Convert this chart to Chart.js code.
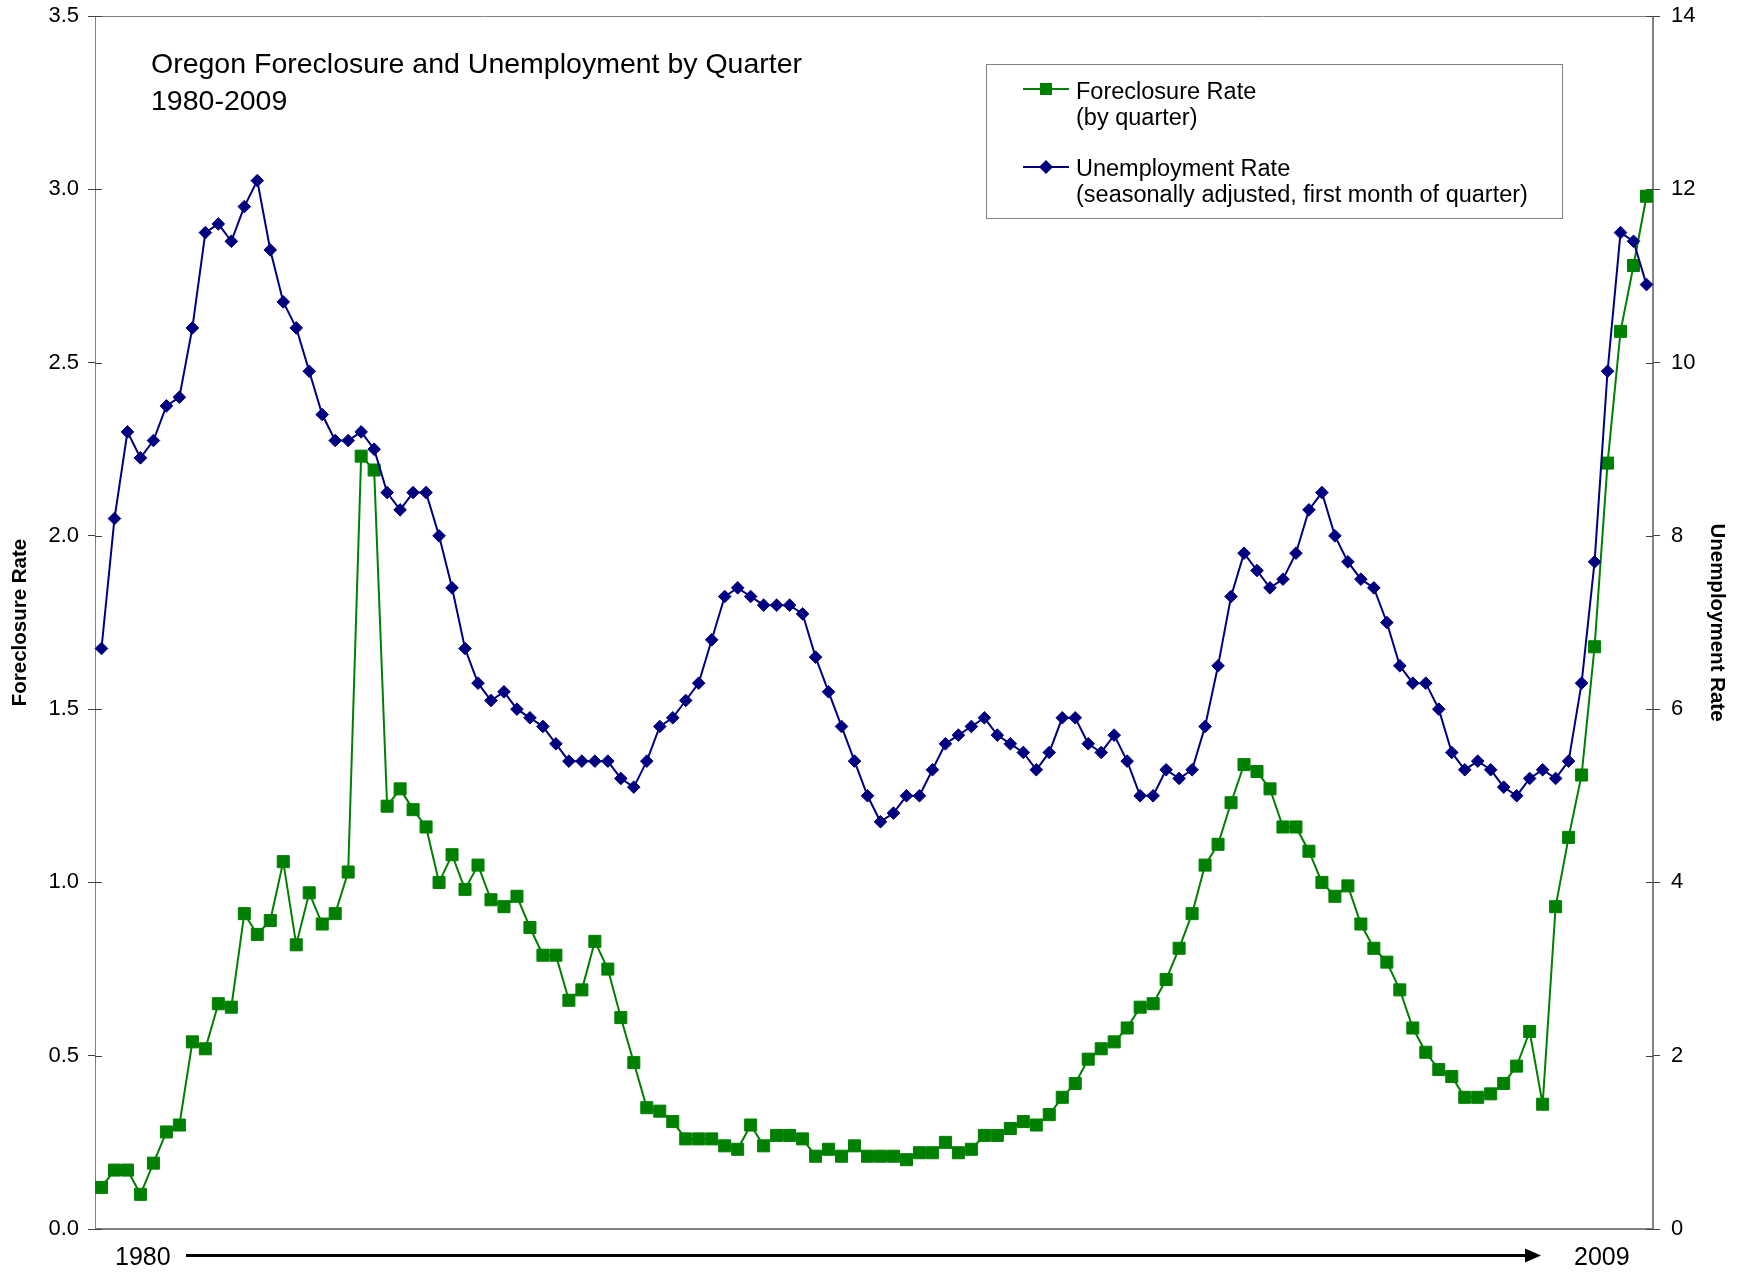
<!DOCTYPE html>
<html>
<head>
<meta charset="utf-8">
<script src="https://cdn.jsdelivr.net/npm/chart.js@4.4.1/dist/chart.umd.min.js"></script>
<style>
html,body{margin:0;padding:0;background:#fff;}
#wrap{width:1743px;height:1273px;position:relative;}
</style>
</head>
<body>
<div id="wrap"><canvas id="c" width="1743" height="1273"></canvas></div>
<script>
// ---------- data ----------
const years = [1980,1981,1982,1983,1984,1985,1986,1987,1988,1989,1990,1991,1992,1993,1994,
               1995,1996,1997,1998,1999,2000,2001,2002,2003,2004,2005,2006,2007,2008,2009];
const quarterNames = ['Q1','Q2','Q3','Q4'];
const categories = [];
for (const yr of years) for (const q of quarterNames) categories.push(yr + ' ' + q);

const foreclosureRate = [
  0.12,0.17,0.17,0.10,0.19,0.28,0.30,0.54,0.52,0.65,0.64,0.91,0.85,0.89,1.06,0.82,0.97,0.88,0.91,1.03,
  2.23,2.19,1.22,1.27,1.21,1.16,1.00,1.08,0.98,1.05,0.95,0.93,0.96,0.87,0.79,0.79,0.66,0.69,0.83,0.75,
  0.61,0.48,0.35,0.34,0.31,0.26,0.26,0.26,0.24,0.23,0.30,0.24,0.27,0.27,0.26,0.21,0.23,0.21,0.24,0.21,
  0.21,0.21,0.20,0.22,0.22,0.25,0.22,0.23,0.27,0.27,0.29,0.31,0.30,0.33,0.38,0.42,0.49,0.52,0.54,0.58,
  0.64,0.65,0.72,0.81,0.91,1.05,1.11,1.23,1.34,1.32,1.27,1.16,1.16,1.09,1.00,0.96,0.99,0.88,0.81,0.77,
  0.69,0.58,0.51,0.46,0.44,0.38,0.38,0.39,0.42,0.47,0.57,0.36,0.93,1.13,1.31,1.68,2.21,2.59,2.78,2.98
];

const unemploymentRate = [
  6.7,8.2,9.2,8.9,9.1,9.5,9.6,10.4,11.5,11.6,11.4,11.8,12.1,11.3,10.7,10.4,9.9,9.4,9.1,9.1,
  9.2,9.0,8.5,8.3,8.5,8.5,8.0,7.4,6.7,6.3,6.1,6.2,6.0,5.9,5.8,5.6,5.4,5.4,5.4,5.4,
  5.2,5.1,5.4,5.8,5.9,6.1,6.3,6.8,7.3,7.4,7.3,7.2,7.2,7.2,7.1,6.6,6.2,5.8,5.4,5.0,
  4.7,4.8,5.0,5.0,5.3,5.6,5.7,5.8,5.9,5.7,5.6,5.5,5.3,5.5,5.9,5.9,5.6,5.5,5.7,5.4,
  5.0,5.0,5.3,5.2,5.3,5.8,6.5,7.3,7.8,7.6,7.4,7.5,7.8,8.3,8.5,8.0,7.7,7.5,7.4,7.0,
  6.5,6.3,6.3,6.0,5.5,5.3,5.4,5.3,5.1,5.0,5.2,5.3,5.2,5.4,6.3,7.7,9.9,11.5,11.4,10.9
];

const leftTickLabels  = ['0.0','0.5','1.0','1.5','2.0','2.5','3.0','3.5'];
const rightTickLabels = ['0','2','4','6','8','10','12','14'];
const titleLines = ['Oregon Foreclosure and Unemployment by Quarter', '1980-2009'];
const legendForeclosure = ['Foreclosure Rate', '(by quarter)'];
const legendUnemployment = ['Unemployment Rate', '(seasonally adjusted, first month of quarter)'];
const axisStartLabel = '1980';
const axisEndLabel = '2009';

// ---------- styles ----------
const GREEN = '#008000';
const NAVY = '#000080';
const FONT = "'Liberation Sans', Arial, Helvetica, sans-serif";
Chart.defaults.font.family = FONT;
Chart.defaults.color = '#000';

function seg(ctx, x1, y1, x2, y2) { ctx.beginPath(); ctx.moveTo(x1, y1); ctx.lineTo(x2, y2); ctx.stroke(); }

const decorPlugin = {
  id: 'decor',
  beforeDraw(chart) {
    const c = chart.ctx;
    c.save(); c.fillStyle = '#fff'; c.fillRect(0, 0, chart.width, chart.height); c.restore();
  },
  beforeDatasetsDraw(chart) {
    const ctx = chart.ctx, a = chart.chartArea;
    ctx.save();
    ctx.lineCap = 'butt';
    ctx.strokeStyle = '#808080'; ctx.lineWidth = 1;
    seg(ctx, a.left, a.top + 0.5, a.right, a.top + 0.5);
    seg(ctx, a.left + 0.5, a.top, a.left + 0.5, a.bottom);
    ctx.strokeStyle = '#5a5a5a'; ctx.lineWidth = 1.5;
    seg(ctx, a.right, a.top, a.right, a.bottom);
    ctx.strokeStyle = '#808080'; ctx.lineWidth = 2;
    seg(ctx, a.left, a.bottom, a.right, a.bottom);
    // inner halves of crossing tick marks
    ctx.strokeStyle = '#404040'; ctx.lineWidth = 1;
    const sy = chart.scales.y, sy1 = chart.scales.y1;
    sy.ticks.forEach(t => { const p = Math.round(sy.getPixelForValue(t.value)) + 0.5; seg(ctx, a.left, p, a.left + 7, p); });
    sy1.ticks.forEach(t => { const p = Math.round(sy1.getPixelForValue(t.value)) + 0.5; seg(ctx, a.right - 7, p, a.right, p); });
    ctx.restore();
  },
  afterDraw(chart) {
    const ctx = chart.ctx;
    ctx.save();
    // title
    ctx.fillStyle = '#000';
    ctx.textAlign = 'left';
    ctx.textBaseline = 'alphabetic';
    ctx.font = '28.5px ' + FONT;
    ctx.fillText(titleLines[0], 151, 73);
    ctx.fillText(titleLines[1], 151, 110);

    // legend box
    ctx.fillStyle = '#fff';
    ctx.fillRect(986.5, 64.5, 576, 154);
    ctx.strokeStyle = '#808080'; ctx.lineWidth = 1;
    ctx.strokeRect(986.5, 64.5, 576, 154);
    // entry 1
    ctx.strokeStyle = GREEN; ctx.lineWidth = 2;
    seg(ctx, 1023, 89, 1069, 89);
    ctx.fillStyle = GREEN;
    ctx.fillRect(1046 - 6, 89 - 6, 12, 12);
    // entry 2
    ctx.strokeStyle = NAVY; ctx.lineWidth = 2;
    seg(ctx, 1023, 167, 1069, 167);
    ctx.fillStyle = NAVY;
    ctx.beginPath();
    ctx.moveTo(1046 - 7, 167); ctx.lineTo(1046, 167 - 7); ctx.lineTo(1046 + 7, 167); ctx.lineTo(1046, 167 + 7);
    ctx.closePath(); ctx.fill();
    // legend text
    ctx.fillStyle = '#000';
    ctx.font = '23.5px ' + FONT;
    ctx.fillText(legendForeclosure[0], 1076, 99);
    ctx.fillText(legendForeclosure[1], 1076, 125);
    ctx.fillText(legendUnemployment[0], 1076, 176);
    ctx.fillText(legendUnemployment[1], 1076, 202);

    // bottom time arrow
    ctx.font = '25px ' + FONT;
    ctx.fillText(axisStartLabel, 115, 1265);
    ctx.fillText(axisEndLabel, 1574, 1265);
    ctx.strokeStyle = '#000'; ctx.lineWidth = 3;
    seg(ctx, 186, 1255.5, 1530, 1255.5);
    ctx.fillStyle = '#000';
    ctx.beginPath();
    ctx.moveTo(1541, 1255.5); ctx.lineTo(1525, 1248.5); ctx.lineTo(1525, 1262.5); ctx.closePath(); ctx.fill();
    ctx.restore();
  }
};

function fitVertical(width) {
  return s => { s.width = width; s.paddingTop = 0; s.paddingBottom = 0; };
}

new Chart(document.getElementById('c').getContext('2d'), {
  type: 'line',
  data: {
    labels: categories,
    datasets: [
      {
        label: 'Foreclosure Rate',
        data: foreclosureRate,
        yAxisID: 'y',
        borderColor: GREEN,
        backgroundColor: GREEN,
        borderWidth: 2,
        pointStyle: 'rect',
        pointRadius: 8.5,
        pointBorderWidth: 1,
        pointBackgroundColor: GREEN,
        pointBorderColor: GREEN,
        tension: 0,
        fill: false,
        clip: false,
        order: 1
      },
      {
        label: 'Unemployment Rate',
        data: unemploymentRate,
        yAxisID: 'y1',
        borderColor: NAVY,
        backgroundColor: NAVY,
        borderWidth: 2,
        pointStyle: 'rectRot',
        pointRadius: 6.3,
        pointBorderWidth: 1,
        pointBackgroundColor: NAVY,
        pointBorderColor: NAVY,
        tension: 0,
        fill: false,
        clip: false,
        order: 0
      }
    ]
  },
  options: {
    responsive: false,
    animation: false,
    devicePixelRatio: 1,
    events: [],
    layout: { padding: { top: 16, left: 0, right: 0, bottom: 0 } },
    plugins: {
      legend: { display: false },
      tooltip: { enabled: false },
      title: { display: false }
    },
    scales: {
      x: {
        type: 'category',
        offset: true,
        grid: { display: false },
        border: { display: false },
        ticks: { display: false },
        afterFit: s => { s.height = 44; s.paddingLeft = 0; s.paddingRight = 0; }
      },
      y: {
        position: 'left',
        min: 0, max: 3.5,
        ticks: {
          stepSize: 0.5,
          callback: v => leftTickLabels[Math.round(v / 0.5)],
          color: '#000',
          font: { size: 22 },
          padding: 9
        },
        grid: { drawOnChartArea: false, drawTicks: true, tickLength: 7, color: '#404040' },
        border: { display: false },
        title: {
          display: true, text: 'Foreclosure Rate', color: '#000',
          font: { size: 20.5, weight: 'bold' },
          padding: { top: 8, bottom: 0 }
        },
        afterFit: fitVertical(95)
      },
      y1: {
        position: 'right',
        min: 0, max: 14,
        ticks: {
          stepSize: 2,
          callback: v => rightTickLabels[Math.round(v / 2)],
          color: '#000',
          font: { size: 22 },
          padding: 11
        },
        grid: { drawOnChartArea: false, drawTicks: true, tickLength: 7, color: '#404040' },
        border: { display: false },
        title: {
          display: true, text: 'Unemployment Rate', color: '#000',
          font: { size: 20.5, weight: 'bold' },
          padding: { top: 14, bottom: 0 }
        },
        afterFit: fitVertical(90)
      }
    }
  },
  plugins: [decorPlugin]
});
</script>
</body>
</html>
